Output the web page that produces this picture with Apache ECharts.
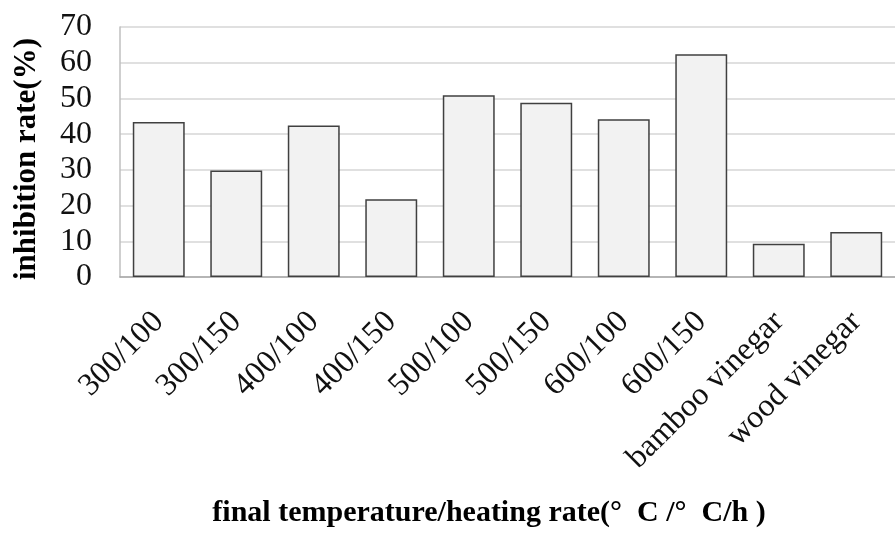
<!DOCTYPE html>
<html>
<head>
<meta charset="utf-8">
<script src="https://cdn.jsdelivr.net/npm/echarts@6/dist/echarts.min.js"></script>
<style>
  html, body { margin: 0; padding: 0; background: #fff; }
  #chart { width: 895px; height: 534px; }
</style>
</head>
<body>
<div id="chart"></div>
<script>
// Carbonization conditions and their inhibition rates
const categories = ['300/100', '300/150', '400/100', '400/150', '500/100', '500/150', '600/100', '600/150', 'bamboo vinegar', 'wood vinegar'];
const inhibitionRate = [43.4, 29.8, 42.4, 21.8, 50.9, 48.8, 44.2, 62.4, 9.3, 12.6];
const yTicks = [0, 10, 20, 30, 40, 50, 60, 70];

const yAxisTitle = 'inhibition rate(%)';
const xAxisTitle = 'final temperature/heating rate(°  C /°  C/h )';

const chart = echarts.init(document.getElementById('chart'), null, { renderer: 'canvas' });

const serif = '"Liberation Serif", "Times New Roman", serif';

chart.setOption({
  animation: false,
  backgroundColor: '#ffffff',
  grid: { left: 120, top: 27, width: 782, height: 250, containLabel: false },
  xAxis: {
    type: 'category',
    data: categories,
    axisLine: { show: true, lineStyle: { color: '#a6a6a6', width: 1.5 } },
    axisTick: { show: false },
    axisLabel: {
      interval: 0,
      rotate: 45,
      margin: 40,
      fontFamily: serif,
      fontSize: 32,
      color: '#111'
    }
  },
  yAxis: {
    type: 'value',
    min: yTicks[0],
    max: yTicks[yTicks.length - 1],
    interval: 10,
    axisLine: { show: true, lineStyle: { color: '#bfbfbf', width: 1.5 } },
    axisTick: { show: false },
    splitLine: { show: true, lineStyle: { color: '#d6d6d6', width: 1.5 } },
    axisLabel: {
      margin: 28,
      fontFamily: serif,
      fontSize: 32,
      color: '#111'
    }
  },
  series: [{
    type: 'bar',
    data: inhibitionRate,
    barWidth: '67%',
    itemStyle: { color: '#f2f2f2', borderColor: '#404040', borderWidth: 1.5 }
  }],
  graphic: [
    {
      type: 'text',
      x: 27, y: 159,
      rotation: Math.PI / 2,
      style: {
        text: yAxisTitle,
        font: 'bold 31px ' + serif,
        fill: '#000',
        align: 'center',
        verticalAlign: 'middle'
      }
    },
    {
      type: 'text',
      x: 489, y: 513,
      style: {
        text: xAxisTitle,
        font: 'bold 30px ' + serif,
        fill: '#000',
        align: 'center',
        verticalAlign: 'middle'
      }
    }
  ]
});
</script>
</body>
</html>
